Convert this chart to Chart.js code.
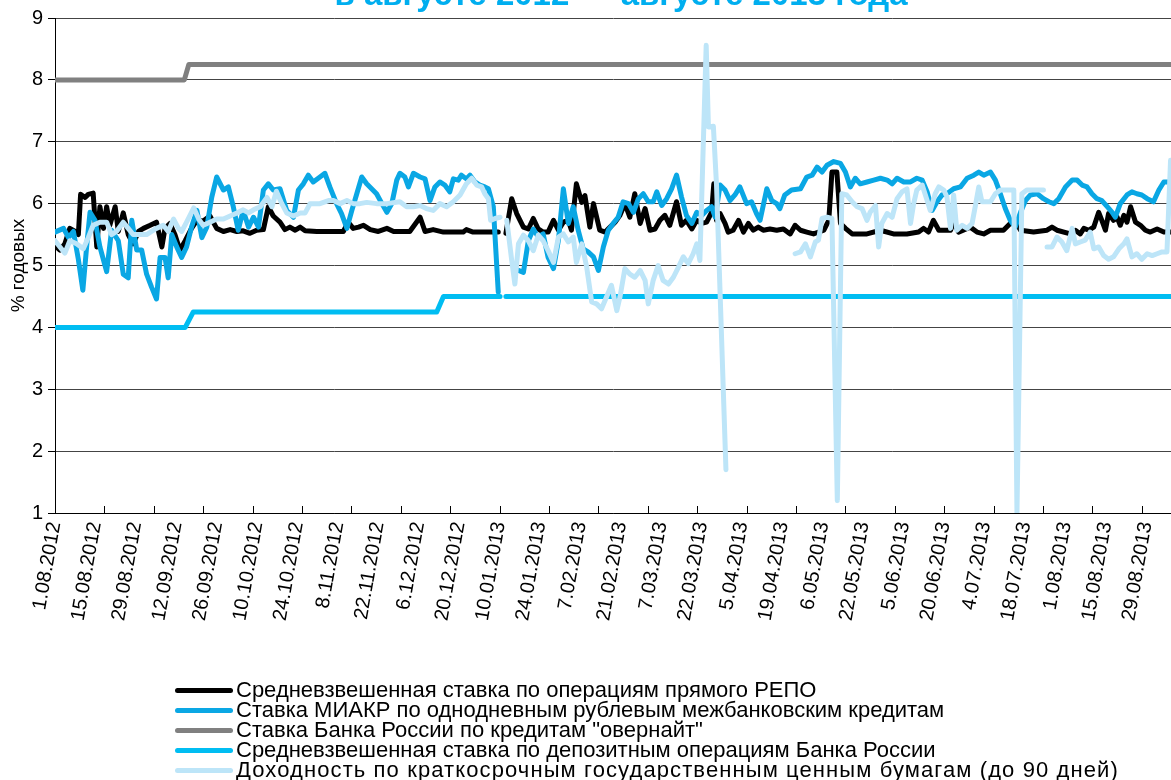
<!DOCTYPE html>
<html lang="ru">
<head>
<meta charset="utf-8">
<script src="https://cdn.jsdelivr.net/npm/chart.js@4.4.1/dist/chart.umd.min.js"></script>
<style>
  body { margin: 0; background: #fff; }
  #wrap { position: relative; width: 1171px; height: 780px; overflow: hidden; font-family: "Liberation Sans", Arial, sans-serif; }
  #titulo { position: absolute; left: 0; width: 1242px; top: -25px; text-align: center; font-weight: bold; font-size: 33px; color: #00aeef; white-space: nowrap; }
  #legenda { position: absolute; left: 175px; top: 680px; }
  .item { display: flex; align-items: center; height: 20px; font-size: 22px; white-space: nowrap; color: #000; }
  .item .linha { width: 58px; height: 5px; border-radius: 3px; margin-right: 3px; }
  .item:last-child span:last-child { letter-spacing: 1.1px; }
</style>
</head>
<body>
<div id="wrap">
  <canvas id="grafico" width="1171" height="780"></canvas>
  <div id="titulo">в августе 2012 — августе 2013 года</div>
  <div id="legenda"></div>
</div>
<script>
// подписи оси X (каждый 9-й торговый день), засечки — каждые 11 дней
const tickLabels = ['1.08.2012', '15.08.2012', '29.08.2012', '12.09.2012', '26.09.2012', '10.10.2012',
  '24.10.2012', '8.11.2012', '22.11.2012', '6.12.2012', '20.12.2012', '10.01.2013', '24.01.2013',
  '7.02.2013', '21.02.2013', '7.03.2013', '22.03.2013', '5.04.2013', '19.04.2013', '6.05.2013',
  '22.05.2013', '5.06.2013', '20.06.2013', '4.07.2013', '18.07.2013', '1.08.2013', '15.08.2013', '29.08.2013'];
const labelEvery = 9;
const tickEvery = 11;
const lastDay = 248.5;

const seriesNames = [
  'Средневзвешенная ставка по операциям прямого РЕПО',
  'Ставка МИАКР по однодневным рублевым межбанковским кредитам',
  'Ставка Банка России по кредитам "овернайт"',
  'Средневзвешенная ставка по депозитным операциям Банка России',
  'Доходность по краткосрочным государственным ценным бумагам (до 90 дней)'
];

// [торговый день, % годовых]
const repo = [[0,5.32],[1.1,5.25],[2.2,5.35],[3.3,5.6],[4.5,5.55],[5.2,5.5],[5.7,6.15],[6.7,6.1],[7.4,6.15],[8.5,6.17],[9.3,5.3],[10,5.95],[10.8,5.6],[11.5,5.95],[12.2,5.65],[13.4,5.95],[14.1,5.55],[15.2,5.85],[16.3,5.5],[17.4,5.35],[18.6,5.55],[19.7,5.6],[21.2,5.65],[22.6,5.7],[23.8,5.3],[24.5,5.6],[25.6,5.68],[26.7,5.5],[27.8,5.25],[29,5.4],[30.4,5.6],[31.6,5.73],[33,5.72],[34.5,5.8],[36,5.6],[37.5,5.55],[39,5.58],[40.5,5.55],[41.9,5.56],[43.4,5.52],[44.9,5.57],[46.4,5.58],[47.5,5.95],[48.6,5.8],[50.1,5.7],[51.2,5.58],[52.3,5.62],[53.5,5.57],[54.6,5.62],[55.7,5.56],[58.3,5.55],[62,5.55],[64.2,5.55],[65.3,5.7],[66.4,5.6],[67.6,5.62],[68.7,5.65],[70.2,5.58],[72,5.55],[73.9,5.6],[75.4,5.55],[76.8,5.55],[79,5.55],[81.3,5.78],[82.4,5.55],[84.2,5.58],[86.5,5.54],[88.7,5.54],[90.9,5.54],[91.6,5.58],[93.1,5.54],[95.4,5.54],[97.6,5.54],[98.7,5.54],[100,null],[100.4,5.52],[101.7,6.08],[102.8,5.84],[104.3,5.62],[105.4,5.59],[106.5,5.76],[107.6,5.59],[108.7,5.54],[109.8,5.54],[111,5.73],[112.1,5.57],[113.2,5.7],[114.3,5.73],[115,5.57],[116.1,6.32],[117.3,6.02],[118,6.13],[119.1,5.62],[119.9,6.0],[121.3,5.57],[122.5,5.54],[123.6,5.62],[124.7,5.7],[125.8,5.81],[126.9,6.0],[128,5.78],[129.1,6.16],[130.3,5.68],[131.4,5.92],[132.5,5.57],[133.6,5.59],[134.7,5.73],[135.8,5.81],[136.9,5.65],[138.4,6.03],[139.5,5.65],[140.6,5.73],[141.8,5.59],[142.9,5.73],[144,5.68],[145.1,5.7],[146.2,5.86],[146.7,6.32],[147.3,5.73],[148.1,5.84],[149.2,5.68],[149.9,5.54],[151,5.57],[152.2,5.73],[153.3,5.54],[154.4,5.68],[155.5,5.57],[156.6,5.62],[157.7,5.57],[159.2,5.59],[160.7,5.57],[162.2,5.59],[163.7,5.51],[164.8,5.65],[166,5.57],[167.4,5.54],[168.9,5.51],[171.2,5.57],[172.3,5.73],[173,6.51],[174.1,6.51],[174.9,5.68],[176,5.6],[177.5,5.51],[180.8,5.51],[183.8,5.57],[186.7,5.51],[189.7,5.51],[192.3,5.54],[193.4,5.6],[194.5,5.54],[195.6,5.73],[196.8,5.57],[199.4,5.57],[200.1,5.7],[201.2,5.54],[203.8,5.62],[205.3,5.54],[206.8,5.51],[208.3,5.57],[211.2,5.57],[212.7,5.68],[213.8,5.73],[215,5.57],[217.9,5.54],[220.9,5.57],[222,5.62],[223.1,5.57],[226.1,5.51],[227.2,5.57],[228.3,5.51],[229.1,5.6],[230.2,5.57],[231.3,5.62],[232.4,5.86],[233.1,5.73],[233.9,5.57],[234.6,5.84],[235.7,5.73],[236.5,5.78],[237.2,5.65],[238,5.81],[238.7,5.7],[239.5,5.95],[240.6,5.7],[241.7,5.65],[242.8,5.57],[243.9,5.54],[245.4,5.59],[246.9,5.54],[248.5,5.54]];

const miakr = [[0,5.54],[1.9,5.6],[3,5.45],[4.1,5.55],[5.2,5.1],[6.2,4.6],[7.1,5.35],[7.8,5.86],[8.9,5.73],[10,5.3],[11.5,4.9],[12.6,5.57],[14.1,5.4],[15.2,4.86],[16.3,4.8],[17.1,5.73],[18.2,5.25],[19.3,5.25],[20.4,4.86],[21.5,4.65],[22.6,4.46],[23.4,5.13],[24.5,5.13],[25.2,4.8],[26,5.5],[27.1,5.3],[28.2,5.13],[29.3,5.3],[30.4,5.62],[31.6,5.89],[32.7,5.45],[33.8,5.62],[34.9,6.1],[36,6.43],[37.5,6.22],[38.6,6.27],[39.7,5.95],[40.8,5.57],[41.9,5.89],[43.1,5.62],[44.2,5.78],[45.3,5.62],[46.4,6.22],[47.5,6.32],[48.6,6.22],[50.1,6.24],[51.6,5.89],[53.1,5.78],[54.2,6.22],[55.3,6.32],[56.4,6.46],[57.5,6.35],[59,6.43],[60.1,6.49],[61.2,6.27],[62.7,6.0],[63.8,5.84],[65,5.6],[66.1,5.89],[67.2,6.16],[68.3,6.43],[69.4,6.32],[70.5,6.24],[71.6,6.16],[72.8,6.0],[73.9,5.86],[75,6.0],[76.1,6.38],[76.8,6.49],[77.9,6.43],[78.7,6.27],[79.8,6.49],[81.3,6.43],[82.4,6.4],[83.5,6.05],[84.6,6.27],[85.7,6.35],[86.8,6.3],[87.9,6.19],[88.7,6.4],[89.8,6.38],[90.5,6.46],[91.6,6.4],[92.4,6.46],[93.5,6.35],[94.6,6.3],[95.7,6.27],[96.5,6.24],[97.6,5.95],[98.7,4.57],[100,null],[103.2,4.92],[104.3,4.89],[105.4,5.4],[106.5,5.59],[107.6,5.46],[108.7,5.51],[109.8,5.13],[111,4.95],[112.1,5.41],[113.2,6.24],[114.3,5.68],[115.4,5.95],[116.5,5.57],[117.6,5.27],[118.7,5.22],[119.9,5.14],[121,4.92],[122.1,5.3],[123.2,5.57],[124.3,5.68],[125.4,5.78],[126.5,6.03],[127.7,6.0],[128.8,5.86],[129.9,6.08],[131,6.16],[132.1,6.03],[133.2,6.03],[134,6.19],[135.1,5.97],[136.2,6.08],[137.3,6.24],[138.4,6.46],[139.5,6.11],[140.6,5.81],[141.8,5.68],[142.9,5.86],[144,5.81],[145.1,5.89],[146.2,5.95],[147,5.78],[148.1,6.3],[149.2,6.22],[150.3,6.05],[151.4,6.14],[152.5,6.27],[154,6.0],[155.1,6.03],[156.2,5.84],[157,5.73],[158.5,6.24],[159.6,6.05],[160.7,6.0],[161.4,5.92],[162.5,6.14],[164,6.22],[166,6.24],[167.4,6.43],[168.6,6.46],[169.7,6.59],[170.8,6.51],[171.9,6.62],[173.4,6.68],[174.9,6.65],[176,6.51],[177.1,6.27],[178.2,6.41],[179.3,6.32],[180.8,6.35],[182.3,6.38],[183.8,6.41],[185.3,6.38],[186.4,6.32],[187.5,6.41],[189,6.35],[190.5,6.35],[191.9,6.41],[193.1,6.38],[194.2,6.19],[195.3,5.89],[196.4,6.03],[197.5,6.14],[198.6,6.16],[200.1,6.24],[201.6,6.27],[203.1,6.41],[204.6,6.46],[205.7,6.51],[206.8,6.46],[208.3,6.51],[209.4,6.38],[210.5,6.16],[211.6,5.92],[212.7,5.73],[213.8,5.62],[215,5.86],[216.1,6.05],[217.2,6.14],[218.7,6.16],[220.1,6.08],[221.3,6.03],[222.4,6.0],[223.5,6.08],[225,6.27],[226.5,6.38],[227.6,6.38],[228.7,6.3],[229.8,6.27],[230.9,6.16],[232,6.08],[233.1,6.05],[234.3,5.95],[235.4,5.86],[236.1,5.78],[237.2,6.0],[238.7,6.14],[239.8,6.19],[240.9,6.16],[242,6.14],[243.2,6.08],[244.6,6.03],[245.8,6.22],[246.9,6.35],[248.5,6.35]];

const overnight = [[0,8],[28.8,8],[29.8,8.25],[248.5,8.25]];

const deposit = [[0,4],[29,4],[30.8,4.25],[85,4.25],[86.5,4.5],[99.1,4.5],[100,null],[100.4,4.5],[248.5,4.5]];

const bills = [[0,5.4],[1.1,5.3],[2.2,5.2],[3.3,5.4],[4.8,5.35],[6.3,5.27],[7.4,5.45],[8.5,5.65],[10,5.7],[11.5,5.7],[12.6,5.5],[13.7,5.55],[15.2,5.7],[16.3,5.6],[17.4,5.5],[18.9,5.5],[20.4,5.5],[21.5,5.55],[22.6,5.6],[24.1,5.65],[25.2,5.55],[26.4,5.75],[27.5,5.6],[28.2,5.55],[29.3,5.7],[30.9,5.93],[32,5.75],[33,5.65],[34.5,5.7],[36,5.75],[37.5,5.75],[39,5.8],[40.5,5.85],[41.9,5.9],[43.1,5.85],[44.2,5.9],[45.7,5.95],[47.2,6.1],[48.3,5.95],[49.3,6.2],[50.5,6.0],[51.6,5.85],[53.1,5.8],[54.6,5.85],[55.7,5.85],[56.8,6.0],[59,6.0],[60.9,6.05],[62,6.05],[63.5,6.0],[65,6.05],[66.4,6.0],[67.9,6.0],[69.4,6.02],[71.6,6.0],[73.9,6.0],[76.8,6.03],[78.3,5.95],[79.8,5.95],[81.3,5.97],[82.7,5.92],[84.2,5.89],[85.7,6.0],[87.2,5.95],[88.7,6.03],[90.2,6.14],[91.6,6.32],[92.8,6.41],[93.9,6.3],[95,6.27],[95.7,6.16],[96.5,6.08],[97,5.73],[98,5.76],[99.1,5.78],[100,null],[100.6,5.73],[101.7,5.08],[102.4,4.7],[103.2,5.35],[104.3,5.49],[105.4,5.4],[106.5,5.24],[107.6,5.49],[108.7,5.4],[109.8,5.24],[111,5.05],[112.1,5.46],[113.2,5.51],[114.3,5.38],[115.4,5.46],[116.1,5.05],[117.3,5.35],[118.4,4.97],[119.5,4.41],[120.6,4.38],[121.7,4.3],[122.8,4.49],[123.9,4.68],[125.1,4.27],[125.8,4.49],[126.9,4.95],[128,4.86],[129.1,4.81],[130.3,4.92],[131.4,4.76],[132.1,4.38],[133.2,4.76],[134.3,5.0],[135.4,4.76],[136.6,4.7],[137.7,4.81],[138.8,4.97],[139.9,5.14],[141,5.03],[142.1,5.19],[142.9,5.35],[143.6,5.08],[145,8.56],[145.5,7.24],[146.6,7.25],[147.3,6.3],[149.4,1.7],[150,null],[164.8,5.19],[166,5.22],[167.1,5.35],[168.2,5.14],[169.3,5.38],[170,5.41],[170.8,5.76],[171.9,5.78],[173,5.76],[174.2,1.2],[175.2,6.16],[176.3,6.14],[177.5,6.03],[178.6,5.95],[179.7,5.92],[180.8,5.73],[181.5,5.86],[182.7,5.97],[183.4,5.3],[184.1,5.68],[185.3,5.84],[186.4,5.78],[187.5,6.08],[188.6,6.19],[189.7,6.24],[190.5,5.68],[191.2,6.0],[191.9,6.22],[193.1,6.3],[194.2,6.05],[194.9,5.89],[196,6.16],[196.8,6.27],[197.9,6.22],[198.6,6.11],[199.4,5.6],[200.1,6.14],[200.8,5.57],[202,5.65],[203.1,5.6],[204.2,5.68],[204.9,5.95],[205.7,6.27],[206.4,6.03],[207.2,6.03],[208.3,6.03],[209.4,6.16],[210.5,6.22],[212,6.22],[213.5,6.22],[214.2,1.0],[215.3,6.16],[216.4,6.22],[220.1,6.22],[220.5,null],[220.9,5.3],[222,5.3],[223.1,5.46],[224.2,5.38],[225.3,5.24],[226.5,5.6],[227.2,5.35],[228.3,5.38],[229.4,5.41],[230.5,5.54],[231.3,5.27],[232.4,5.3],[233.5,5.16],[234.6,5.1],[235.7,5.14],[236.9,5.27],[238,5.35],[238.7,5.43],[239.8,5.14],[240.9,5.19],[242,5.1],[243.2,5.19],[244.3,5.16],[245.4,5.19],[246.5,5.22],[247.6,5.22],[248.4,6.7]];

const colors = ['#000000', '#0aa7e4', '#808080', '#00bdf2', '#bde5f8'];
const allSeries = [repo, miakr, overnight, deposit, bills];
// светлая линия поверх остальных, как в исходнике
const drawOrder = [4, 3, 2, 1, 0];

const datasets = allSeries.map((s, i) => ({
  label: seriesNames[i],
  data: s.map(([x, y]) => ({ x, y })),
  borderColor: colors[i],
  backgroundColor: colors[i],
  borderWidth: 5,
  pointRadius: 0,
  tension: 0,
  spanGaps: false,
  borderJoinStyle: 'round',
  borderCapStyle: 'round',
  order: drawOrder[i]
}));

// засечки оси X внутрь области графика
const tickMarks = {
  id: 'tickMarks',
  afterDraw(chart) {
    const x = chart.scales.x;
    const ctx = chart.ctx;
    const bottom = chart.chartArea.bottom;
    ctx.save();
    ctx.strokeStyle = '#000';
    ctx.lineWidth = 1;
    for (let d = 0; d <= lastDay; d += tickEvery) {
      const px = Math.round(x.getPixelForValue(d)) + 0.5;
      ctx.beginPath();
      ctx.moveTo(px, bottom - 7);
      ctx.lineTo(px, bottom);
      ctx.stroke();
    }
    ctx.restore();
  }
};

const chart = new Chart(document.getElementById('grafico'), {
  type: 'line',
  data: { datasets },
  plugins: [tickMarks],
  options: {
    responsive: false,
    animation: false,
    layout: { padding: { top: 18, right: 0, left: 0, bottom: 0 } },
    plugins: {
      legend: { display: false },
      title: { display: false },
      tooltip: { enabled: false }
    },
    scales: {
      x: {
        type: 'linear',
        min: 0,
        max: lastDay,
        afterFit: s => { s.height = 267; s.paddingLeft = 0; s.paddingRight = 0; },
        border: { display: true, color: '#000', width: 1 },
        grid: { drawOnChartArea: false, drawTicks: false },
        ticks: {
          stepSize: labelEvery,
          includeBounds: false,
          autoSkip: false,
          minRotation: 80,
          maxRotation: 80,
          padding: 7,
          color: '#000',
          font: { family: '"Liberation Sans", Arial, sans-serif', size: 20 },
          callback: v => (v % labelEvery === 0 ? tickLabels[v / labelEvery] || '' : '')
        }
      },
      y: {
        min: 1,
        max: 9,
        afterFit: s => { s.width = 55; s.paddingTop = 0; s.paddingBottom = 0; },
        border: { display: true, color: '#000', width: 1 },
        grid: { color: '#444', lineWidth: 1, tickLength: 7, tickColor: '#000' },
        ticks: {
          stepSize: 1,
          padding: 5,
          color: '#000',
          font: { family: '"Liberation Sans", Arial, sans-serif', size: 20 }
        },
        title: {
          display: true,
          text: '% годовых',
          color: '#000',
          padding: { top: 7, bottom: 0 },
          font: { family: '"Liberation Sans", Arial, sans-serif', size: 19 }
        }
      }
    }
  }
});

// легенда в столбик, как в исходнике
const legenda = document.getElementById('legenda');
chart.data.datasets.forEach(ds => {
  const item = document.createElement('div');
  item.className = 'item';
  item.innerHTML = `<span class="linha" style="background:${ds.borderColor}"></span><span>${ds.label}</span>`;
  legenda.appendChild(item);
});
</script>
</body>
</html>
